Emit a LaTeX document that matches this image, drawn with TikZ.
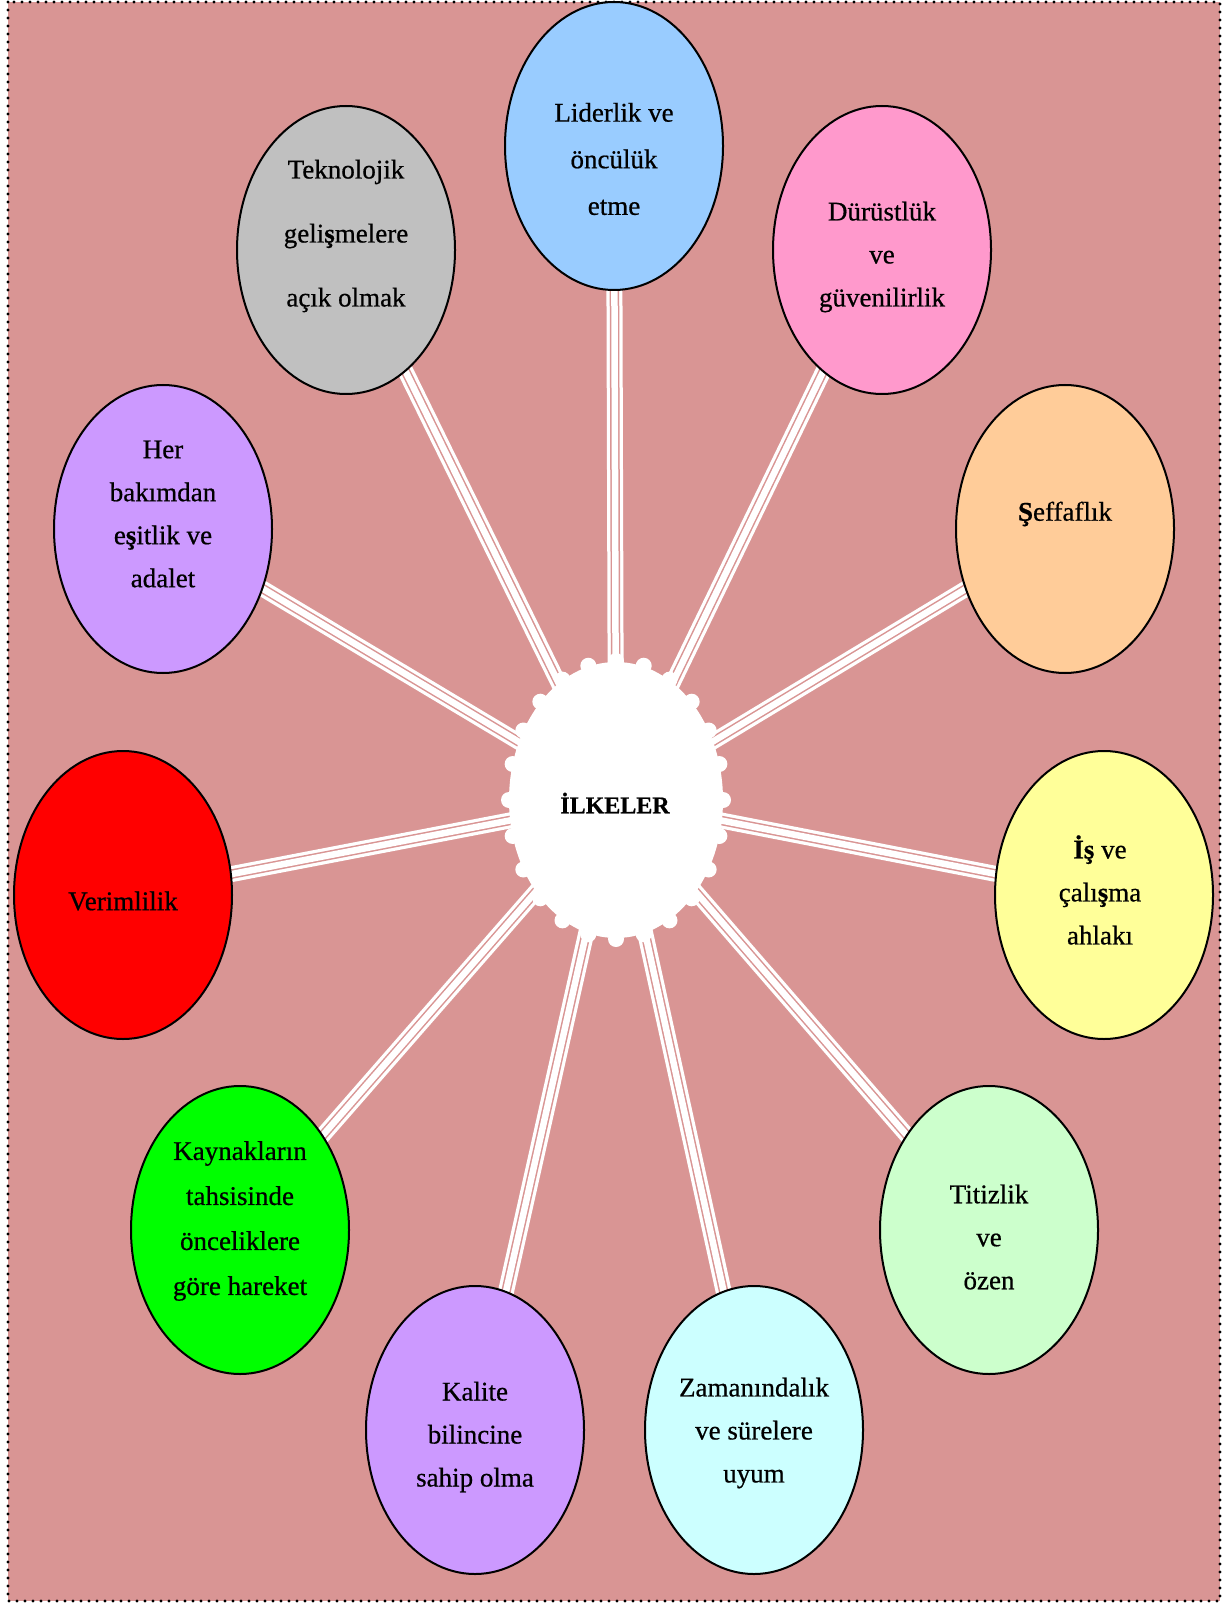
\documentclass[tikz,border=0pt]{standalone}
\usepackage{fontspec}
\setmainfont{Liberation Serif}[FakeBold=0.6]
\newfontfamily\lblfont{Liberation Serif}[FakeBold=0.6]
\usetikzlibrary{shapes.geometric,calc}
\pgfdeclarelayer{back}
\pgfdeclarelayer{bg}
\pgfsetlayers{back,bg,main}
\definecolor{bgpink}{HTML}{D99594}
\definecolor{cLid}{HTML}{99CCFF}
\definecolor{cDur}{HTML}{FF99CC}
\definecolor{cSef}{HTML}{FFCC99}
\definecolor{cIs}{HTML}{FFFF99}
\definecolor{cTit}{HTML}{CCFFCC}
\definecolor{cZam}{HTML}{CCFFFF}
\definecolor{cKal}{HTML}{CC99FF}
\definecolor{cKay}{HTML}{00FF00}
\definecolor{cVer}{HTML}{FF0000}
\definecolor{cHer}{HTML}{CC99FF}
\definecolor{cTek}{HTML}{C0C0C0}
\tikzset{
  oval/.style={ellipse, draw=black, line width=1pt, minimum width=109pt, minimum height=144pt, inner sep=0pt},
  lbl/.style={align=center, inner sep=0pt, font=\lblfont\fontsize{13.5}{21.5}\selectfont},
  conn/.style={line width=8pt, draw=white,
    postaction={draw=bgpink, line width=4.75pt},
    postaction={draw=white, line width=3.25pt}},
}
\begin{document}
\begin{tikzpicture}[x=0.5pt,y=-0.5pt]
\useasboundingbox (0,0) rectangle (1226,1604);
\begin{pgfonlayer}{back}
\fill[white] (0,0) rectangle (1226,1604);
\fill[bgpink] (8,2) rectangle (1220,1601);
\draw[line width=1.7pt, dash pattern=on 0pt off 4pt, line cap=round] (8,2) rectangle (1220,1601);
\end{pgfonlayer}

% centre
\node[ellipse, fill=white, minimum width=107pt, minimum height=138pt, inner sep=0pt] (c) at (616,800) {};
\foreach \a in {0,15,...,345} \fill[white] ($(616,800)+(\a:107 and 139)$) circle (8);
\node[lbl, font=\lblfont\fontsize{12}{15}\selectfont\bfseries] (ct) at (615,803) {İLKELER};

% outer ellipses
\node[oval, fill=cLid] (e1) at (614,146) {};
\node[oval, fill=cDur] (e2) at (882,250) {};
\node[oval, fill=cSef] (e3) at (1065,529) {};
\node[oval, fill=cIs] (e4) at (1104,895) {};
\node[oval, fill=cTit] (e5) at (989,1230) {};
\node[oval, fill=cZam] (e6) at (754,1430) {};
\node[oval, fill=cKal] (e7) at (475,1430) {};
\node[oval, fill=cKay] (e8) at (240,1230) {};
\node[oval, fill=cVer] (e9) at (123,895) {};
\node[oval, fill=cHer] (e10) at (163,529) {};
\node[oval, fill=cTek] (e11) at (346,250) {};

% labels
\node[lbl, font=\lblfont\fontsize{13.5}{23.3}\selectfont] (t1) at (614,159) {Liderlik ve\\öncülük\\etme};
\node[lbl] (t2) at (882,257) {Dürüstlük\\ve\\güvenilirlik};
\node[lbl] (t3) at (1065,514) {\textbf{Ş}effaflık};
\node[lbl] (t4) at (1100,890) {\textbf{İş} ve\\çalı\textbf{ş}ma\\ahlakı};
\node[lbl] (t5) at (989,1237) {Titizlik\\ve\\özen};
\node[lbl] (t6) at (754,1433) {Zamanındalık\\ve sürelere\\uyum};
\node[lbl] (t7) at (475,1437) {Kalite\\bilincine\\sahip olma};
\node[lbl, font=\lblfont\fontsize{13.5}{22.5}\selectfont] (t8) at (240,1221) {Kaynakların\\tahsisinde\\önceliklere\\göre hareket};
\node[lbl] (t9) at (123,901) {Verimlilik};
\node[lbl] (t10) at (163,514) {Her\\bakımdan\\e\textbf{ş}itlik ve\\adalet};
\node[lbl, font=\lblfont\fontsize{13.5}{32}\selectfont] (t11) at (346,236) {Teknolojik\\geli\textbf{ş}melere\\açık olmak};

% connectors
\begin{pgfonlayer}{bg}
\foreach \i in {1,...,11} \draw[conn] (c.center) -- (e\i.center);
\end{pgfonlayer}
\end{tikzpicture}
\end{document}
